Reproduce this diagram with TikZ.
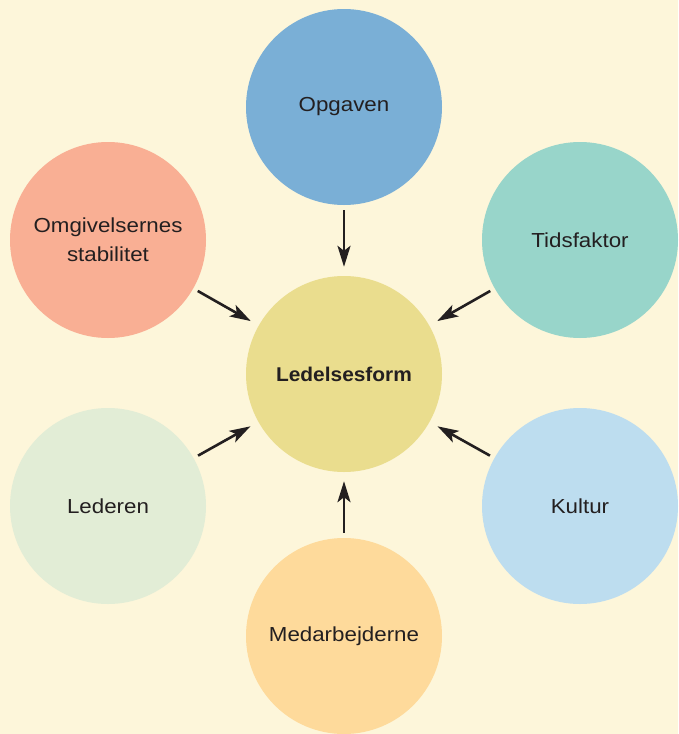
\documentclass[tikz,border=0pt]{standalone}
\usepackage{fontspec}
\setmainfont{Liberation Sans}
\newfontfamily\widefont[FakeStretch=1.1]{Liberation Sans}
\newfontfamily\widebold[FakeStretch=1.05]{Liberation Sans Bold}
\usetikzlibrary{arrows.meta}
\definecolor{bg}{HTML}{FDF6DA}
\definecolor{cmid}{HTML}{EADD8E}
\definecolor{cop}{HTML}{7AAFD6}
\definecolor{ctid}{HTML}{98D5CA}
\definecolor{ckul}{HTML}{BDDDEF}
\definecolor{cmed}{HTML}{FEDA9B}
\definecolor{cled}{HTML}{E2EDD6}
\definecolor{comg}{HTML}{F9AF94}
\definecolor{ink}{HTML}{231F20}
\tikzset{
  bub/.style={circle, minimum size=196pt, inner sep=0pt, text=ink, font=\widefont\fontsize{20.3}{29}\selectfont, align=center},
  arr/.style={draw=ink, line width=2.6pt, -{Stealth[length=21pt,width=13pt,inset=5pt]}, shorten <=5pt, shorten >=9pt}
}
\begin{document}
\begin{tikzpicture}[x=1pt,y=-1pt]
\fill[bg] (0,0) rectangle (678,734);
\useasboundingbox (0,0) rectangle (678,734);
\begin{scope}
\clip (0,0) rectangle (678,734);
\node[bub, fill=cmid, font=\widebold\fontsize{19.9}{23}\selectfont] (c) at (344,374) {Ledelsesform};
\node[bub, fill=cop] (op) at (344,107) {Opgaven};
\node[bub, fill=ctid] (ti) at (580,240) {Tidsfaktor};
\node[bub, fill=ckul] (ku) at (580,506) {Kultur};
\node[bub, fill=cmed] (me) at (344,636) {Medarbejderne};
\node[bub, fill=cled] (le) at (108,506) {Lederen};
\node[bub, fill=comg] (om) at (108,240) {Omgivelsernes\\stabilitet};
\end{scope}
\draw[arr] (op) -- (c);
\draw[arr] (me) -- (c);
\draw[arr] (om) -- (c);
\draw[arr] (ti) -- (c);
\draw[arr] (le) -- (c);
\draw[arr] (ku) -- (c);
\end{tikzpicture}
\end{document}
